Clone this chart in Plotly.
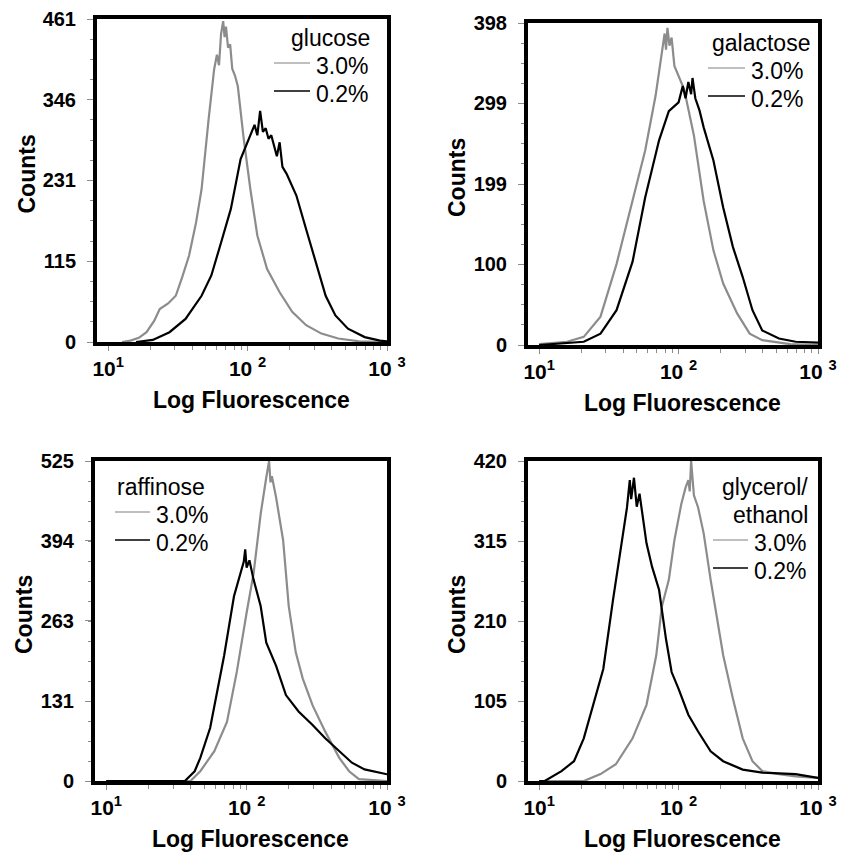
#Flow cytometry histograms: 3.0% vs 0.2% sugar, four carbon sources

import plotly.graph_objects as go

#---------------------------------Data-----------------------------------------------------------
# x values are log10(fluorescence), y values are cell counts

glucose_hi_log = [1.10, 1.16, 1.22, 1.275, 1.33, 1.37, 1.43, 1.485, 1.53, 1.58, 1.63, 1.67, 1.72, 1.76,
                  1.78, 1.795, 1.81, 1.825, 1.835, 1.845, 1.86, 1.875, 1.89, 1.91, 1.93, 1.97, 2.02, 2.07,
                  2.14, 2.23, 2.32, 2.42, 2.53, 2.65, 2.80, 3.00]
glucose_hi = [0, 2, 6, 14, 30, 47, 55, 66, 92, 123, 170, 218, 317, 389,
              410, 395, 440, 458, 435, 450, 420, 425, 390, 380, 365, 294, 218, 152,
              104, 71, 43, 24, 12, 5, 1, 0]
glucose_lo_log = [1.20, 1.32, 1.44, 1.555, 1.67, 1.74, 1.81, 1.88, 1.95, 2.00, 2.03, 2.05, 2.07, 2.09,
                  2.11, 2.13, 2.15, 2.17, 2.19, 2.21, 2.23, 2.25, 2.28, 2.35, 2.42, 2.49, 2.56, 2.63,
                  2.72, 2.84, 2.95, 3.00]
glucose_lo = [0, 3, 14, 33, 66, 95, 142, 190, 261, 285, 300, 310, 295, 330,
              300, 305, 290, 295, 280, 265, 285, 250, 240, 209, 161, 114, 66, 38,
              19, 7, 2, 1]

galactose_hi_log = [1.00, 1.20, 1.32, 1.44, 1.555, 1.67, 1.76, 1.835, 1.88, 1.90, 1.91, 1.92, 1.935, 1.95,
                    1.97, 2.04, 2.11, 2.18, 2.25, 2.32, 2.42, 2.51, 2.60, 2.80, 3.00]
galactose_hi = [1, 4, 10, 35, 100, 178, 240, 308, 361, 385, 365, 392, 370, 380,
                345, 316, 259, 178, 117, 76, 39, 14, 6, 1, 0]
galactose_lo_log = [1.00, 1.32, 1.44, 1.555, 1.67, 1.76, 1.86, 1.93, 2.00, 2.03, 2.05, 2.07, 2.09, 2.10,
                    2.12, 2.15, 2.18, 2.25, 2.32, 2.39, 2.46, 2.53, 2.60, 2.72, 2.84, 3.00]
galactose_lo = [0, 4, 14, 43, 103, 182, 253, 289, 300, 320, 305, 325, 310, 330,
                305, 290, 269, 228, 170, 121, 84, 43, 18, 8, 4, 3]

raffinose_hi_log = [1.00, 1.60, 1.67, 1.77, 1.86, 1.93, 2.00, 2.05, 2.10, 2.12, 2.14, 2.16, 2.17, 2.18,
                    2.21, 2.26, 2.30, 2.35, 2.40, 2.47, 2.56, 2.66, 2.73, 2.80, 3.00]
raffinose_hi = [0, 0, 16, 49, 97, 179, 276, 341, 438, 470, 498, 525, 490, 500,
                465, 395, 287, 211, 168, 124, 81, 38, 16, 3, 0]
raffinose_lo_log = [1.00, 1.56, 1.63, 1.67, 1.74, 1.84, 1.91, 1.96, 1.98, 1.99, 2.00, 2.02, 2.05, 2.10,
                    2.14, 2.21, 2.28, 2.37, 2.47, 2.56, 2.66, 2.75, 2.84, 2.94, 3.00]
raffinose_lo = [0, 0, 16, 38, 87, 206, 303, 341, 360, 380, 350, 362, 330, 287,
                227, 189, 141, 114, 92, 70, 49, 30, 19, 14, 11]

glycerol_hi_log = [1.00, 1.32, 1.44, 1.55, 1.67, 1.77, 1.84, 1.88, 1.93, 1.97, 2.02, 2.05, 2.07, 2.08,
                   2.09, 2.11, 2.14, 2.18, 2.23, 2.28, 2.32, 2.39, 2.46, 2.53, 2.60, 2.72, 2.84, 3.00]
glycerol_hi = [0, 0, 9, 22, 56, 100, 165, 229, 264, 316, 364, 385, 395, 380,
               420, 375, 359, 325, 264, 208, 165, 108, 56, 26, 13, 9, 6, 4]
glycerol_lo_log = [1.00, 1.04, 1.16, 1.25, 1.32, 1.39, 1.46, 1.53, 1.58, 1.63, 1.65, 1.66, 1.68, 1.70,
                   1.72, 1.77, 1.81, 1.86, 1.91, 1.95, 2.00, 2.07, 2.14, 2.23, 2.32, 2.46, 2.60, 2.84,
                   3.00]
glycerol_lo = [0, 0, 13, 26, 56, 100, 147, 238, 299, 359, 395, 370, 398, 360,
               377, 312, 281, 251, 186, 143, 121, 87, 65, 39, 26, 15, 11, 9,
               4]

# y-axis tick labels of each panel
glucose_ticks = [0, 115, 231, 346, 461]
galactose_ticks = [0, 100, 199, 299, 398]
raffinose_ticks = [0, 131, 263, 394, 525]
glycerol_ticks = [0, 105, 210, 315, 420]

# x-axis ticks: labelled decades plus unlabelled minor ticks
x_major = [10, 100, 1000]
x_major_text = ['10<sup>1</sup>', '10 <sup>2</sup>', '10 <sup>3</sup>']
x_minor = [20, 30, 40, 50, 60, 70, 80, 90, 200, 300, 400, 500, 600, 700, 800, 900]

GRAY = '#8c8c8c'
FONT = 'Liberation Sans, Arial, Helvetica, sans-serif'
# the page body adds an 8 px margin, so the figure is drawn 8 px smaller and offset
OFF = 8
W, H = 854 - OFF, 860 - OFF


def px(x):
    return (x - OFF) / W


def py(y):
    return 1 - (y - OFF) / H


fig = go.Figure()

#---------------------------------Panels--------------------------------------
# (3.0% x, 3.0% y, 0.2% x, 0.2% y, yticks, x pixel span, y pixel span)
panels = [
    (glucose_hi_log, glucose_hi, glucose_lo_log, glucose_lo, glucose_ticks, (97, 387), (19, 342)),
    (galactose_hi_log, galactose_hi, galactose_lo_log, galactose_lo, galactose_ticks, (528, 818), (23, 345)),
    (raffinose_hi_log, raffinose_hi, raffinose_lo_log, raffinose_lo, raffinose_ticks, (95, 387), (461, 781)),
    (glycerol_hi_log, glycerol_hi, glycerol_lo_log, glycerol_lo, glycerol_ticks, (528, 818), (461, 781)),
]

layout_axes = {}
for i, (hx, hy, lx, ly, yt, (x0, x1), (y0, y1)) in enumerate(panels, start=1):
    xa = 'x' if i == 1 else f'x{i}'
    ya = 'y' if i == 1 else f'y{i}'

    # 3.0% curve (gray) and 0.2% curve (black)
    fig.add_trace(go.Scatter(x=[10 ** v for v in hx], y=hy, mode='lines',
                             line=dict(color=GRAY, width=2.2), xaxis=xa, yaxis=ya, showlegend=False))
    fig.add_trace(go.Scatter(x=[10 ** v for v in lx], y=ly, mode='lines',
                             line=dict(color='black', width=2.2), xaxis=xa, yaxis=ya, showlegend=False))

    ymax = yt[-1]
    layout_axes['xaxis' if i == 1 else f'xaxis{i}'] = dict(
        type='log', range=[0.92, 3.0], domain=[px(x0), px(x1)], anchor=ya, automargin=False,
        showline=True, linewidth=4, linecolor='black', mirror=True, showgrid=False, zeroline=False,
        tickmode='array', tickvals=x_major, ticktext=x_major_text, ticks='outside', ticklen=5,
        tickcolor=GRAY, ticklabelstandoff=0, ticklabeloverflow='allow',
        tickfont=dict(family=FONT, size=21, color='black', weight='bold'),
        minor=dict(tickmode='array', tickvals=x_minor, ticks='outside', ticklen=4, tickcolor=GRAY),
    )
    layout_axes['yaxis' if i == 1 else f'yaxis{i}'] = dict(
        range=[0, ymax], domain=[py(y1), py(y0)], anchor=xa, automargin=False,
        showline=True, linewidth=4, linecolor='black', mirror=True, showgrid=False, zeroline=False,
        tickmode='array', tickvals=yt, ticktext=[str(v) for v in yt], ticks='outside', ticklen=6,
        tickcolor=GRAY, ticklabelstandoff=7, ticklabeloverflow='allow',
        tickfont=dict(family=FONT, size=20, color='black', weight='bold'),
        minor=dict(tickmode='linear', tick0=0, dtick=ymax / 16, ticks='outside', ticklen=3, tickcolor=GRAY),
    )

    # axis titles
    fig.add_annotation(text='<b>Counts</b>', xref='paper', yref='paper', x=px(x0 - 71),
                       y=py((y0 + y1) / 2 - 6), textangle=-90, showarrow=False,
                       xanchor='center', yanchor='middle',
                       font=dict(family=FONT, size=23, color='black'))
    fig.add_annotation(text='<b>Log Fluorescence</b>', xref='paper', yref='paper',
                       x=px((x0 + x1) / 2 + 9), y=py(y1 + 58), showarrow=False,
                       xanchor='center', yanchor='middle',
                       font=dict(family=FONT, size=23, color='black'))

fig.update_layout(**layout_axes)

#---------------------------------Legends drawn inside each panel--------------------------------------
# (label lines, anchor side, text x, first text y, line x0, line x1)
legend_specs = [
    (['glucose', '3.0%', '0.2%'], 'right', 372, 38, 274, 310),
    (['galactose', '3.0%', '0.2%'], 'right', 812, 43, 708, 745),
    (['raffinose', '3.0%', '0.2%'], 'left', 115, 487, 115, 150),
    (['glycerol/', 'ethanol', '3.0%', '0.2%'], 'right', 810, 487, 713, 748),
]
row_gap = 28
for labels, side, tx, ty, lx0, lx1 in legend_specs:
    for k, lab in enumerate(labels):
        yy = ty + k * row_gap
        if lab in ('3.0%', '0.2%'):
            xx = lx1 + 4
            anchor = 'left'
        else:
            xx = tx
            anchor = side
        fig.add_annotation(text=lab, xref='paper', yref='paper', x=px(xx), y=py(yy),
                           xanchor=anchor, yanchor='middle', showarrow=False,
                           font=dict(family=FONT, size=23, color='black'))
        if lab in ('3.0%', '0.2%'):
            col = '#aaaaaa' if lab == '3.0%' else 'black'
            fig.add_shape(type='line', xref='paper', yref='paper', x0=px(lx0), x1=px(lx1),
                          y0=py(yy - 3), y1=py(yy - 3), line=dict(color=col, width=1.5))

fig.update_layout(
    width=W, height=H,
    margin=dict(l=0, r=0, t=0, b=0, autoexpand=False),
    paper_bgcolor='white', plot_bgcolor='white',
    font=dict(family=FONT, color='black'),
)

fig.write_html("out.html")
